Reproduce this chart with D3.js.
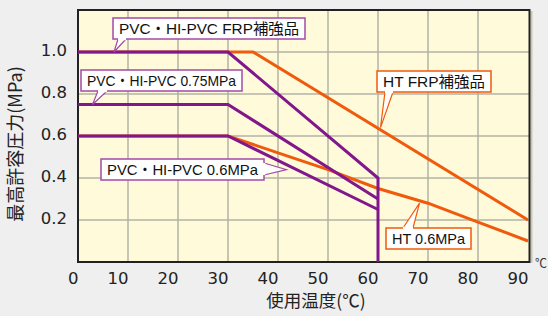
<!DOCTYPE html>
<html lang="ja">
<head>
<meta charset="utf-8">
<script src="https://d3js.org/d3.v7.min.js"></script>
<style>
  body { margin: 0; background: #efefef; }
  svg { display: block; }
</style>
</head>
<body>
<script>
// temperatures (deg C) and max pressure (MPa) per series
var pvcFrpT = [0, 30, 60, 60];
var pvcFrpP = [1.0, 1.0, 0.4, 0];
var pvc075T = [0, 30, 60];
var pvc075P = [0.75, 0.75, 0.3];
var pvc06T = [0, 30, 60];
var pvc06P = [0.6, 0.6, 0.25];
var htFrpT = [0, 35, 90];
var htFrpP = [1.0, 1.0, 0.2];
var ht06T = [0, 30, 40, 50, 60, 70, 80, 90];
var ht06P = [0.6, 0.6, 0.52, 0.44, 0.35, 0.28, 0.19, 0.1];

var xTicks = [0, 10, 20, 30, 40, 50, 60, 70, 80, 90];
var yTicks = [0.2, 0.4, 0.6, 0.8, 1.0];

var purple = "#80178c", orange = "#f05a0c";

var svg = d3.select("body").append("svg")
  .attr("width", 548)
  .attr("height", 316);

var x = d3.scaleLinear().domain([0, 90]).range([78, 528]);
var y = d3.scaleLinear().domain([0, 1.2]).range([262, 10]);

// plot background
svg.append("rect")
  .attr("x", x(0)).attr("y", y(1.2))
  .attr("width", 530 - x(0)).attr("height", y(0) - y(1.2))
  .attr("fill", "#fffad9");

// grid
svg.append("g").selectAll("line").data(xTicks.slice(1, -1)).enter().append("line")
  .attr("x1", d => x(d)).attr("x2", d => x(d))
  .attr("y1", y(1.2)).attr("y2", y(0))
  .attr("stroke", "#b3b2a6").attr("stroke-width", 1.5);
svg.append("g").selectAll("line").data(yTicks).enter().append("line")
  .attr("x1", x(0)).attr("x2", 530)
  .attr("y1", d => y(d)).attr("y2", d => y(d))
  .attr("stroke", "#b3b2a6").attr("stroke-width", 1.5);

// frame
svg.append("line").attr("x1", 531.5).attr("x2", 531.5).attr("y1", 11).attr("y2", 263)
  .attr("stroke", "#c9c6b0").attr("stroke-width", 2);
svg.append("path")
  .attr("d", "M" + x(0) + "," + y(1.2) + "H529.5V" + y(0) + "H" + x(0) + "Z")
  .attr("fill", "none").attr("stroke", "#222").attr("stroke-width", 2);

// axes
var xAxis = svg.append("g")
  .attr("transform", "translate(0," + y(0) + ")")
  .call(d3.axisBottom(x).tickValues(xTicks).tickSize(0).tickPadding(10));
xAxis.select(".domain").remove();
xAxis.selectAll("text")
  .attr("text-anchor", "end")
  .attr("font-family", "DejaVu Sans").attr("font-size", 16.5).attr("fill", "#222");

var yAxis = svg.append("g")
  .attr("transform", "translate(" + x(0) + ",0)")
  .call(d3.axisLeft(y).tickValues(yTicks).tickSize(0).tickPadding(11).tickFormat(d3.format(".1f")));
yAxis.select(".domain").remove();
yAxis.selectAll("text")
  .attr("dy", "0.2em")
  .attr("font-family", "DejaVu Sans").attr("font-size", 16.5).attr("fill", "#222");

svg.append("text")
  .attr("transform", "translate(22,144) rotate(-90)")
  .attr("text-anchor", "middle")
  .attr("font-family", "Noto Sans CJK JP").attr("font-size", 18).attr("fill", "#222")
  .text("最高許容圧力(MPa)");
svg.append("text")
  .attr("x", 316).attr("y", 307)
  .attr("text-anchor", "middle")
  .attr("font-family", "Noto Sans CJK JP").attr("font-size", 17.5).attr("fill", "#222")
  .text("使用温度(℃)");
svg.append("text")
  .attr("x", 535).attr("y", 268)
  .attr("font-family", "Noto Sans CJK JP").attr("font-size", 12).attr("fill", "#333")
  .text("℃");

// lines
var line = d3.line().x(d => x(d[0])).y(d => y(d[1]));
function series(t, p) { return t.map((v, i) => [v, p[i]]); }

[[htFrpT, htFrpP], [ht06T, ht06P]].forEach(function (s) {
  svg.append("path").datum(series(s[0], s[1])).attr("d", line)
    .attr("fill", "none").attr("stroke", orange).attr("stroke-width", 3);
});
[[pvc06T, pvc06P], [pvc075T, pvc075P], [pvcFrpT, pvcFrpP]].forEach(function (s) {
  svg.append("path").datum(series(s[0], s[1])).attr("d", line)
    .attr("fill", "none").attr("stroke", purple).attr("stroke-width", 3);
});

// callouts: box in px, tip on data, pointer base as px offsets along the box side
var callouts = [
  { text: "PVC・HI-PVC FRP補強品", bx: 113, by: 18, w: 192, border: "#a24aa8", tip: [7.2, 1.0], side: "bottom", b0: 5, b1: 13 },
  { text: "PVC・HI-PVC 0.75MPa", bx: 81, by: 70, w: 161, border: "#a24aa8", tip: [2.9, 0.75], side: "bottom", b0: 17, b1: 26 },
  { text: "PVC・HI-PVC 0.6MPa", bx: 101, by: 159, w: 163, border: "#a24aa8", tip: [41.7, 0.44], side: "right", b0: 4, b1: 16 },
  { text: "HT FRP補強品", bx: 377, by: 71, w: 114, border: orange, tip: [60.5, 0.64], side: "bottom", b0: 8, b1: 16 },
  { text: "HT 0.6MPa", bx: 386, by: 228, w: 85, border: orange, tip: [68.3, 0.28], side: "top", b0: 17, b1: 27 }
];

callouts.forEach(function (c) {
  var g = svg.append("g");
  var h = 21, w = c.w;
  var tx = x(c.tip[0]), ty = y(c.tip[1]);
  var p0, p1;
  if (c.side === "bottom") { p0 = [c.bx + c.b0, c.by + h]; p1 = [c.bx + c.b1, c.by + h]; }
  else if (c.side === "top") { p0 = [c.bx + c.b0, c.by]; p1 = [c.bx + c.b1, c.by]; }
  else { p0 = [c.bx + w, c.by + c.b0]; p1 = [c.bx + w, c.by + c.b1]; }
  g.append("rect")
    .attr("x", c.bx).attr("y", c.by).attr("width", w).attr("height", h)
    .attr("fill", "#fff").attr("stroke", c.border).attr("stroke-width", 1.5);
  g.append("path")
    .attr("d", "M" + p0 + "L" + tx + "," + ty + "L" + p1)
    .attr("fill", "#fff").attr("stroke", c.border).attr("stroke-width", 1.2);
  g.append("path")
    .attr("d", "M" + p0 + "L" + p1)
    .attr("stroke", "#fff").attr("stroke-width", 2.5);
  g.append("text")
    .attr("x", c.bx + 6).attr("y", c.by + 16)
    .attr("textLength", w - 12).attr("lengthAdjust", "spacingAndGlyphs")
    .attr("font-family", "Liberation Sans, Noto Sans CJK JP").attr("font-size", 15)
    .attr("fill", "#111")
    .text(c.text);
});
</script>
</body>
</html>
